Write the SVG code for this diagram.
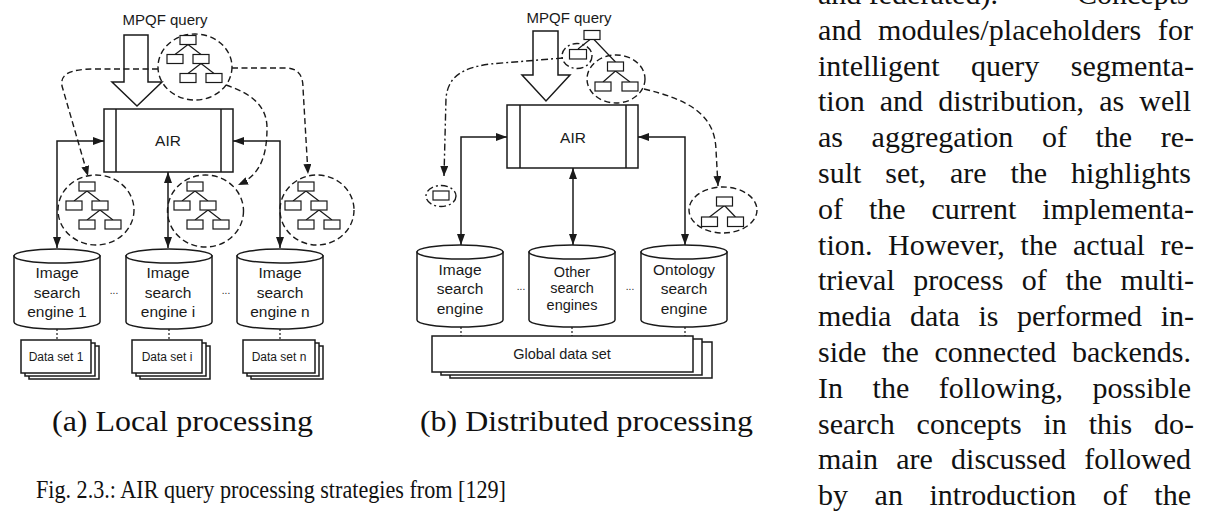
<svg xmlns="http://www.w3.org/2000/svg" width="1209" height="511" viewBox="0 0 1209 511">
<style>
.ln{fill:none;stroke:#1a1a1a;stroke-width:1.5}
.shape{fill:#fff;stroke:#1a1a1a;stroke-width:1.5}
.dash{fill:none;stroke:#1a1a1a;stroke-width:1.4;stroke-dasharray:6 3.5}
.dashdot{fill:none;stroke:#1a1a1a;stroke-width:1.4;stroke-dasharray:7 3 2 3}
.dot{fill:none;stroke:#1a1a1a;stroke-width:1.2;stroke-dasharray:2 2}
.tn{fill:#fff;stroke:#1a1a1a;stroke-width:1.2}
.tl{fill:none;stroke:#1a1a1a;stroke-width:1.2}
.sans{font-family:"Liberation Sans",Arial,Helvetica,sans-serif;fill:#1a1a1a;text-anchor:middle}
.serif{font-family:"Liberation Serif","Times New Roman",serif;fill:#111}
.body{font-family:"Liberation Serif","Times New Roman",serif;fill:#111;font-size:30px}
</style>
<defs>
<marker id="ah" viewBox="0 0 11 8" refX="11" refY="4" markerWidth="11" markerHeight="8" markerUnits="userSpaceOnUse" orient="auto-start-reverse"><path d="M0,0 L11,4 L0,8 z" fill="#1a1a1a"/></marker>
<marker id="ahs" viewBox="0 0 10 8" refX="10" refY="4" markerWidth="10" markerHeight="8" markerUnits="userSpaceOnUse" orient="auto"><path d="M0,0 L10,4 L0,8 z" fill="#1a1a1a"/></marker>
<g id="tree5">
<path class="tl" d="M0,4.5 L-13,14.5 M0,4.5 L13,14.5 M13,23.5 L0,33.5 M13,23.5 L26,33.5"/>
<rect class="tn" x="-8" y="-4.5" width="16" height="9"/>
<rect class="tn" x="-21" y="14.5" width="16" height="9"/>
<rect class="tn" x="5" y="14.5" width="16" height="9"/>
<rect class="tn" x="-8" y="33.5" width="16" height="9"/>
<rect class="tn" x="18" y="33.5" width="16" height="9"/>
</g>
</defs>
<rect width="1209" height="511" fill="#fff"/>

<!-- ===== (a) Local processing ===== -->
<g id="a-query">
<text class="sans" x="165" y="25" font-size="15">MPQF query</text>
<polygon class="shape" points="124,35 148,35 148,82 162,82 137,106 112,82 124,82"/>
</g>
<g id="a-air">
<rect class="shape" x="104" y="109" width="129" height="63"/>
<path class="ln" d="M116,109 V172 M221,109 V172"/>
<text class="sans" x="168" y="145.5" font-size="15.5">AIR</text>
</g>
<g id="a-tree-top">
<ellipse class="dash" cx="195" cy="67" rx="37" ry="33"/>
<use href="#tree5" x="188" y="40"/>
</g>
<g id="a-tree-1">
<ellipse class="dash" cx="96" cy="210" rx="38" ry="35"/>
<use href="#tree5" x="87" y="186.5"/>
</g>
<g id="a-tree-i">
<ellipse class="dash" cx="205.5" cy="211" rx="38" ry="36"/>
<use href="#tree5" x="195" y="186.5"/>
</g>
<g id="a-tree-n">
<ellipse class="dash" cx="317" cy="210" rx="37" ry="35"/>
<use href="#tree5" x="306" y="186.5"/>
</g>
<g id="a-engine-1">
<path class="shape" d="M14,256 V322 A43,7 0 0 0 100,322 V256 Z"/>
<ellipse class="shape" cx="57" cy="256" rx="43" ry="7"/>
<text class="sans" font-size="15.5"><tspan x="57" y="278">Image</tspan><tspan x="57" y="297.5">search</tspan><tspan x="57" y="317">engine 1</tspan></text>
</g>
<g id="a-engine-i">
<path class="shape" d="M126,256 V322 A43,7 0 0 0 212,322 V256 Z"/>
<ellipse class="shape" cx="169" cy="256" rx="43" ry="7"/>
<text class="sans" font-size="15.5"><tspan x="168" y="278">Image</tspan><tspan x="168" y="297.5">search</tspan><tspan x="168" y="317">engine i</tspan></text>
</g>
<g id="a-engine-n">
<path class="shape" d="M237,256 V322 A43,7 0 0 0 323,322 V256 Z"/>
<ellipse class="shape" cx="280" cy="256" rx="43" ry="7"/>
<text class="sans" font-size="15.5"><tspan x="280" y="278">Image</tspan><tspan x="280" y="297.5">search</tspan><tspan x="280" y="317">engine n</tspan></text>
</g>
<text class="sans" x="114" y="294" font-size="10">...</text>
<text class="sans" x="226" y="294" font-size="10">...</text>
<g id="a-data-1">
<rect class="shape" x="29" y="346" width="70" height="33" stroke-width="1.2"/>
<rect class="shape" x="25" y="343" width="70" height="33" stroke-width="1.2"/>
<rect class="shape" x="21" y="340" width="70" height="33" stroke-width="1.2"/>
<text class="sans" x="56" y="361" font-size="12">Data set 1</text>
</g>
<g id="a-data-i">
<rect class="shape" x="140" y="346" width="70" height="33" stroke-width="1.2"/>
<rect class="shape" x="136" y="343" width="70" height="33" stroke-width="1.2"/>
<rect class="shape" x="132" y="340" width="70" height="33" stroke-width="1.2"/>
<text class="sans" x="167" y="361" font-size="12">Data set i</text>
</g>
<g id="a-data-n">
<rect class="shape" x="251" y="346" width="72" height="33" stroke-width="1.2"/>
<rect class="shape" x="247" y="343" width="72" height="33" stroke-width="1.2"/>
<rect class="shape" x="243" y="340" width="72" height="33" stroke-width="1.2"/>
<text class="sans" x="279" y="361" font-size="12">Data set n</text>
</g>
<text class="serif" x="52" y="431" font-size="30" textLength="261" lengthAdjust="spacingAndGlyphs">(a) Local processing</text>

<!-- ===== (b) Distributed processing ===== -->
<g id="b-query">
<text class="sans" x="569" y="23" font-size="15">MPQF query</text>
<polygon class="shape" points="533,31 558,31 558,75 570,75 546,101 522,75 533,75"/>
</g>
<g id="b-air">
<rect class="shape" x="507" y="105" width="131" height="63"/>
<path class="ln" d="M520,105 V168 M626,105 V168"/>
<text class="sans" x="573" y="142.5" font-size="15.5">AIR</text>
</g>
<g id="b-tree-top">
<path class="tl" d="M590,39.5 L578,49 M594,39.5 L615.5,62 M615.5,71 L603,82 M615.5,71 L630,82"/>
<rect class="tn" x="584" y="30.5" width="16" height="9"/>
<rect class="tn" x="569.5" y="49.5" width="17" height="9.5"/>
<rect class="tn" x="607.5" y="62" width="16" height="9"/>
<rect class="tn" x="595" y="82" width="16" height="9"/>
<rect class="tn" x="622" y="82" width="16" height="9"/>
<ellipse class="dashdot" cx="577" cy="56" rx="15" ry="12.5"/>
<ellipse class="dash" cx="616" cy="79" rx="29" ry="24"/>
</g>
<g id="b-part-image">
<ellipse class="dashdot" cx="441" cy="196" rx="15" ry="10.5"/>
<rect class="tn" x="433" y="191" width="16" height="9"/>
</g>
<g id="b-part-ontology">
<ellipse class="dash" cx="723" cy="210" rx="34" ry="23"/>
<path class="tl" d="M724.5,205.5 L709.5,217 M724.5,205.5 L735.5,217"/>
<rect class="tn" x="716.5" y="197" width="16" height="9"/>
<rect class="tn" x="701.5" y="217" width="16" height="9.5"/>
<rect class="tn" x="727.5" y="217" width="16" height="9.5"/>
</g>
<g id="b-engine-image">
<path class="shape" d="M417,252 V320 A43,7 0 0 0 503,320 V252 Z"/>
<ellipse class="shape" cx="460" cy="252" rx="43" ry="7"/>
<text class="sans" font-size="15.5"><tspan x="460" y="275">Image</tspan><tspan x="460" y="294">search</tspan><tspan x="460" y="313.5">engine</tspan></text>
</g>
<g id="b-engine-other">
<path class="shape" d="M529,252 V320 A43,7 0 0 0 615,320 V252 Z"/>
<ellipse class="shape" cx="572" cy="252" rx="43" ry="7"/>
<text class="sans" font-size="14.5"><tspan x="572" y="277">Other</tspan><tspan x="572" y="293">search</tspan><tspan x="572" y="309.5">engines</tspan></text>
</g>
<g id="b-engine-ontology">
<path class="shape" d="M641,252 V320 A43,7 0 0 0 727,320 V252 Z"/>
<ellipse class="shape" cx="684" cy="252" rx="43" ry="7"/>
<text class="sans" font-size="15.5"><tspan x="684" y="274.5">Ontology</tspan><tspan x="684" y="294">search</tspan><tspan x="684" y="313.5">engine</tspan></text>
</g>
<text class="sans" x="521" y="290" font-size="10">...</text>
<text class="sans" x="630" y="290" font-size="10">...</text>
<g id="b-global-data">
<rect class="shape" x="450" y="342" width="262" height="36" stroke-width="1.2"/>
<rect class="shape" x="441" y="339" width="261" height="36" stroke-width="1.2"/>
<rect class="shape" x="432" y="336" width="261" height="36" stroke-width="1.2"/>
<text class="sans" x="562" y="358.5" font-size="14.5">Global data set</text>
</g>
<text class="serif" x="420" y="431" font-size="30" textLength="333" lengthAdjust="spacingAndGlyphs">(b) Distributed processing</text>

<!-- ===== connectors ===== -->
<g id="connectors">
<path class="ln" d="M57,248 V141 H104" marker-start="url(#ah)" marker-end="url(#ah)"/>
<path class="ln" d="M168,172 V248" marker-start="url(#ah)" marker-end="url(#ah)"/>
<path class="ln" d="M280,248 V141 H233" marker-start="url(#ah)" marker-end="url(#ah)"/>
<path class="dash" d="M158,69 L95,69 C70,69 60,74 62,86 L88,176" marker-end="url(#ahs)"/>
<path class="dash" d="M232,68 L285,68 C298,68 303,75 303,88 L308,174" marker-end="url(#ahs)"/>
<path class="dash" d="M226,85 C250,93 267,105 267,128 C267,160 258,176 238,185" marker-end="url(#ahs)"/>
<path class="dot" d="M57,329 V340 M169,329 V340 M280,329 V340"/>

<path class="ln" d="M461,245 V137 H507" marker-start="url(#ah)" marker-end="url(#ah)"/>
<path class="ln" d="M573,168 V245" marker-start="url(#ah)" marker-end="url(#ah)"/>
<path class="ln" d="M685,245 V137 H638" marker-start="url(#ah)" marker-end="url(#ah)"/>
<path class="dashdot" d="M563,58 L490,64 C460,68 448,78 446,98 L444,176" marker-end="url(#ahs)"/>
<path class="dash" d="M644,89 C690,100 715,115 716,150 L718,186" marker-end="url(#ahs)"/>
<path class="dot" d="M461,327 V336 M572,327 V336 M685,327 V336"/>
</g>

<!-- ===== caption ===== -->
<text class="serif" x="36" y="498" font-size="25.5" textLength="470" lengthAdjust="spacingAndGlyphs">Fig. 2.3.: AIR query processing strategies from [129]</text>

<!-- ===== body text column ===== -->
<g id="body-text" class="body">
<text x="818" y="4">and federated). <tspan x="1077">Concepts</tspan></text>
<text x="818" y="39.7" word-spacing="9" textLength="375" lengthAdjust="spacing">and modules/placeholders for</text>
<text x="818" y="75.5" word-spacing="24" textLength="376" lengthAdjust="spacing">intelligent query segmenta-</text>
<text x="818" y="111.3" word-spacing="7.6" textLength="373" lengthAdjust="spacing">tion and distribution, as well</text>
<text x="818" y="147.1" word-spacing="21" textLength="376" lengthAdjust="spacing">as aggregation of the re-</text>
<text x="818" y="182.9" word-spacing="16.4" textLength="373" lengthAdjust="spacing">sult set, are the highlights</text>
<text x="818" y="218.7" word-spacing="18.4" textLength="376" lengthAdjust="spacing">of the current implementa-</text>
<text x="818" y="254.5" word-spacing="8" textLength="376" lengthAdjust="spacing">tion. However, the actual re-</text>
<text x="818" y="290.3" word-spacing="11" textLength="376" lengthAdjust="spacing">trieval process of the multi-</text>
<text x="818" y="326.1" word-spacing="11" textLength="376" lengthAdjust="spacing">media data is performed in-</text>
<text x="818" y="361.9" word-spacing="8.3" textLength="373" lengthAdjust="spacing">side the connected backends.</text>
<text x="818" y="397.7" word-spacing="22" textLength="373" lengthAdjust="spacing">In the following, possible</text>
<text x="818" y="433.5" word-spacing="14.4" textLength="376" lengthAdjust="spacing">search concepts in this do-</text>
<text x="818" y="469.3" word-spacing="10.7" textLength="373" lengthAdjust="spacing">main are discussed followed</text>
<text x="818" y="505.1" word-spacing="19" textLength="373" lengthAdjust="spacing">by an introduction of the</text>
</g>
</svg>
